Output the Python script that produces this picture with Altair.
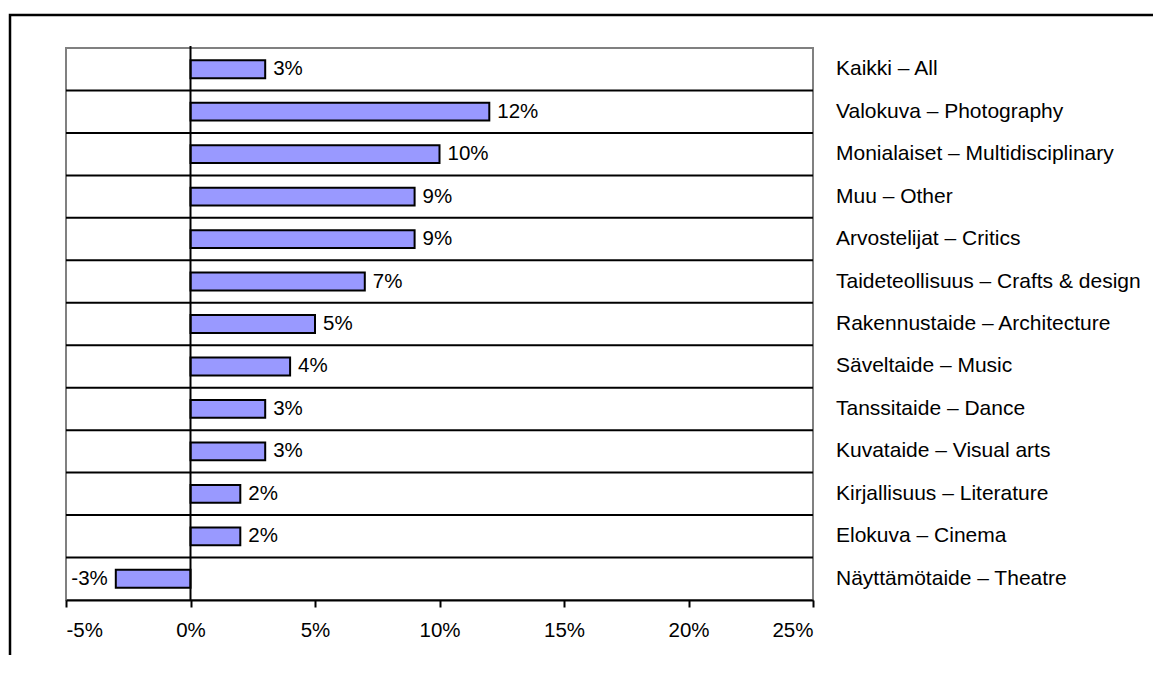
import altair as alt
import pandas as pd

# ---- data ----
categories = [
    "Kaikki – All",
    "Valokuva – Photography",
    "Monialaiset – Multidisciplinary",
    "Muu – Other",
    "Arvostelijat – Critics",
    "Taideteollisuus – Crafts & design",
    "Rakennustaide – Architecture",
    "Säveltaide – Music",
    "Tanssitaide – Dance",
    "Kuvataide – Visual arts",
    "Kirjallisuus – Literature",
    "Elokuva – Cinema",
    "Näyttämötaide – Theatre",
]
growth = [3, 12, 10, 9, 9, 7, 5, 4, 3, 3, 2, 2, -3]
value_labels = ["3%", "12%", "10%", "9%", "9%", "7%", "5%", "4%", "3%", "3%", "2%", "2%", "-3%"]
x_ticks = [-5, 0, 5, 10, 15, 20, 25]
title_text = "Average annual growth (%) of applicants by art form"

W, H = 747, 552
FONT = "Liberation Sans"

df = pd.DataFrame({"cat": categories, "growth": growth, "label": value_labels})

xscale = alt.Scale(domain=[-5, 25], nice=False, zero=False)
yscale = alt.Scale(domain=categories, paddingInner=0, paddingOuter=0)

base = alt.Chart(df)
one = alt.Data(values=[{}])

frame = alt.Chart(one).mark_rect(fillOpacity=0, stroke="black", strokeWidth=2.5).encode(
    x=alt.value(-56), y=alt.value(-33), x2=alt.value(1200), y2=alt.value(700)
)

title = alt.Chart(one).mark_text(
    text=title_text, align="left", baseline="alphabetic", fontStyle="italic",
    fontSize=20, font=FONT, color="black"
).encode(x=alt.value(-68), y=alt.value(-46))

seps = base.transform_filter(alt.datum.cat != categories[0]).mark_rule(
    color="black", strokeWidth=2
).encode(
    y=alt.Y("cat:N", bandPosition=0, scale=yscale, axis=None),
    x=alt.value(0), x2=alt.value(W),
)

bars = base.mark_bar(
    fill="#9999FF", stroke="black", strokeWidth=2, height=alt.RelativeBandSize(0.42)
).encode(
    x=alt.X("growth:Q", scale=xscale, axis=alt.Axis(
        values=x_ticks, labelExpr="datum.value + '%'", title=None, grid=False,
        domainColor="black", domainWidth=2, tickColor="black", tickWidth=2, tickSize=7,
        labelFont=FONT, labelFontSize=20.5, labelColor="black", labelPadding=13,
    )),
    x2=alt.datum(0),
    y=alt.Y("cat:N", scale=yscale, axis=None),
)

zero = alt.Chart(alt.Data(values=[{"z": 0}])).mark_rule(color="black", strokeWidth=2).encode(
    x=alt.X("z:Q", scale=xscale), y=alt.value(-2), y2=alt.value(H)
)

pos = base.transform_filter(alt.datum.growth >= 0).mark_text(
    align="left", baseline="middle", dx=8, font=FONT, fontSize=20.5, color="black"
).encode(x=alt.X("growth:Q", scale=xscale), y=alt.Y("cat:N", scale=yscale), text="label:N")

neg = base.transform_filter(alt.datum.growth < 0).mark_text(
    align="right", baseline="middle", dx=-8, font=FONT, fontSize=20.5, color="black"
).encode(x=alt.X("growth:Q", scale=xscale), y=alt.Y("cat:N", scale=yscale), text="label:N")

cats = base.mark_text(
    align="left", baseline="middle", font=FONT, fontSize=21, color="black"
).encode(x=alt.value(W + 23), y=alt.Y("cat:N", scale=yscale), text="cat:N")

chart = alt.layer(frame, title, seps, bars, zero, pos, neg, cats).properties(
    width=W, height=H,
    padding={"left": 58, "top": 40, "right": 340, "bottom": 55},
    autosize=alt.AutoSizeParams(type="none"),
    background="white",
).configure_view(stroke="#808080", strokeWidth=2)

chart.save("out.html", embed_options={"renderer": "svg", "actions": False})
